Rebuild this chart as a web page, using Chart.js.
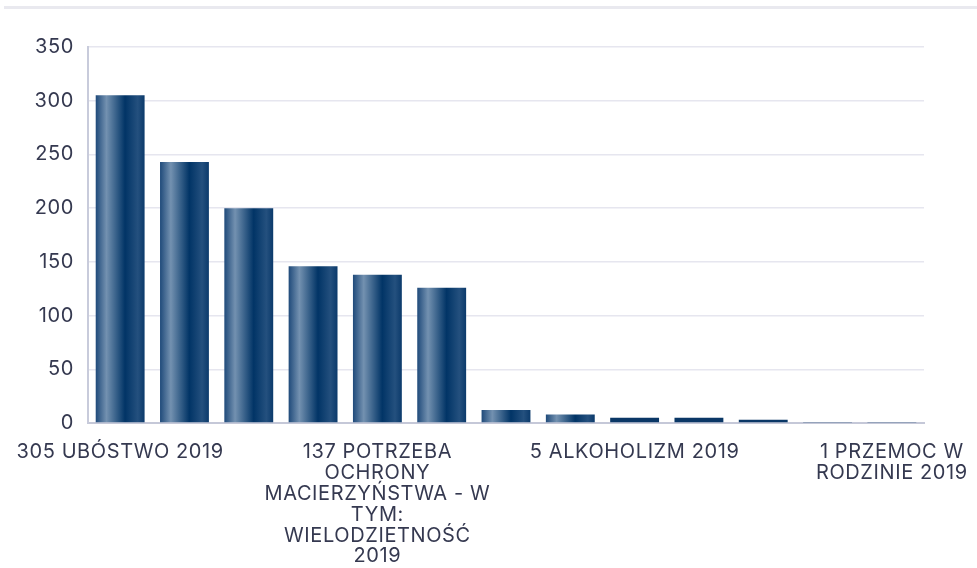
<!DOCTYPE html>
<html>
<head>
<meta charset="utf-8">
<script src="https://cdn.jsdelivr.net/npm/chart.js@4/dist/chart.umd.min.js"></script>
<style>
  html, body { margin: 0; padding: 0; background: #ffffff; }
  #wrap { position: relative; width: 977px; height: 568px; overflow: hidden; }
  #topline { position: absolute; left: 4px; right: 0; top: 6px; height: 3px; background: #e9e9ef; }
  #c { position: absolute; left: 0; top: 0; }
</style>
</head>
<body>
<div id="wrap">
  <div id="topline"></div>
  <canvas id="c" width="977" height="568"></canvas>
</div>
<script>
// Category labels (only some are shown in the reference, the others are blank)
const categories = [
  ["305 UBÓSTWO 2019"], "", "", "",
  ["137 POTRZEBA", "OCHRONY", "MACIERZYŃSTWA - W", "TYM:", "WIELODZIETNOŚĆ", "2019"], "", "", "",
  ["5 ALKOHOLIZM 2019"], "", "", "",
  ["1 PRZEMOC W", "RODZINIE 2019"]
];
const values = [305, 243, 200, 146, 138, 126, 12, 8, 5, 5, 3, 1, 1];
const yTicks = [0, 50, 100, 150, 200, 250, 300, 350];

const BAR_PCT = 0.76;
const SOLID = '#0a3766';
const textColor = '#353950';

function barFill(c) {
  const chart = c.chart;
  const xs = chart.scales && chart.scales.x;
  if (!xs || !chart.chartArea) return SOLID;
  if (c.raw < 6) return SOLID;
  const center = xs.getPixelForValue(c.dataIndex);
  const w = (xs.width / categories.length) * BAR_PCT;
  const g = chart.ctx.createLinearGradient(center - w / 2, 0, center + w / 2, 0);
  g.addColorStop(0, '#1f4a7a');
  g.addColorStop(0.22, '#7391b0');
  g.addColorStop(0.6, '#013466');
  g.addColorStop(0.86, '#24507e');
  g.addColorStop(1, '#0b3a6b');
  return g;
}

const letterSpacingPlugin = {
  id: 'ls',
  beforeDraw(chart) { try { chart.ctx.letterSpacing = '0.6px'; } catch (e) {} }
};

new Chart(document.getElementById('c'), {
  type: 'bar',
  data: {
    labels: categories,
    datasets: [{
      data: values,
      backgroundColor: barFill,
      borderWidth: 0,
      barPercentage: BAR_PCT,
      categoryPercentage: 1
    }]
  },
  options: {
    responsive: false,
    animation: false,
    devicePixelRatio: 1,
    layout: { padding: { top: 47, right: 53, left: 0, bottom: 0 } },
    plugins: { legend: { display: false }, tooltip: { enabled: false }, title: { display: false } },
    scales: {
      x: {
        grid: { display: false, drawTicks: false },
        border: { display: true, color: '#c5c8d8', width: 2 },
        ticks: {
          autoSkip: false,
          maxRotation: 0,
          minRotation: 0,
          padding: 19,
          color: textColor,
          font: { family: 'Inter', size: 20, lineHeight: 1.04 }
        },
        afterFit(scale) {
          scale.paddingLeft = 0;
          scale.paddingRight = 0;
          scale.height = 145;
        }
      },
      y: {
        min: 0,
        max: 350,
        afterBuildTicks(scale) { scale.ticks = yTicks.map(v => ({ value: v })); },
        grid: { color: '#e6e6ef', lineWidth: 1.5, drawTicks: false },
        border: { display: true, color: '#c8cbdb', width: 2 },
        ticks: {
          padding: 14,
          color: textColor,
          font: { family: 'Inter', size: 20 }
        },
        afterFit(scale) { scale.width = 88; }
      }
    }
  },
  plugins: [letterSpacingPlugin]
});
</script>
</body>
</html>
